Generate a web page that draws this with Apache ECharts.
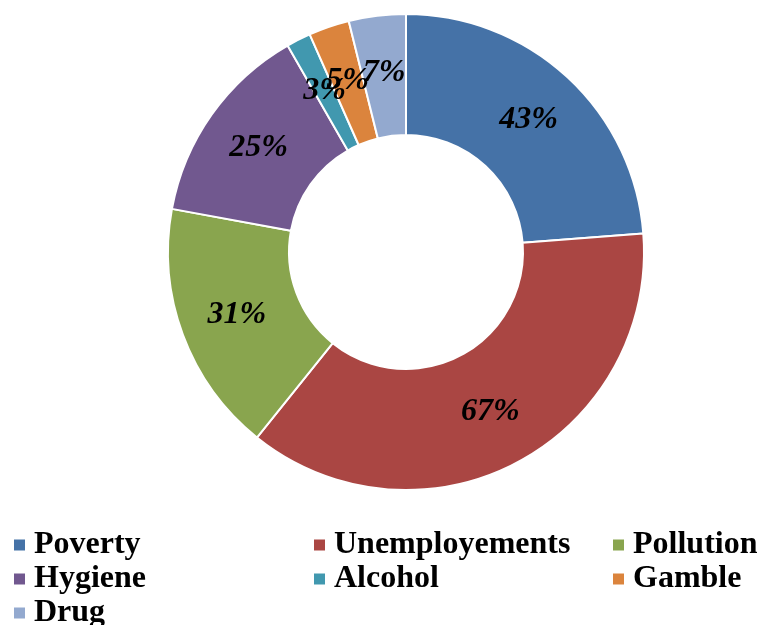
<!DOCTYPE html>
<html><head><meta charset="utf-8">
<script src="https://cdn.jsdelivr.net/npm/echarts@6/dist/echarts.min.js"></script>
<style>html,body{margin:0;padding:0;background:#fff}#c{width:757px;height:625px}</style>
</head><body><div id="c"></div>
<script>
const categories = ['Poverty','Unemployements','Pollution','Hygiene','Alcohol','Gamble','Drug'];
const values = [43, 67, 31, 25, 3, 5, 7];
const colors = ['#4572A7','#AA4643','#89A54E','#71588F','#4198AF','#DB843D','#93A9CF'];
const legendCols = [['Poverty','Hygiene','Drug'],['Unemployements','Alcohol'],['Pollution','Gamble']];
const legendLeft = [12, 312, 611];

const chart = echarts.init(document.getElementById('c'));
const legends = legendCols.map((d, i) => ({
  data: d, orient: 'vertical', left: legendLeft[i], top: 528, height: 200, padding: 0,
  icon: 'rect', itemWidth: 13, itemHeight: 13, itemGap: 0,
  textStyle: {fontFamily: 'Liberation Serif', fontWeight: 'bold', fontSize: 32, color: '#000', lineHeight: 34, padding: [0,0,0,3]}
}));
chart.setOption({
  animation: false,
  color: colors,
  legend: legends,
  series: [{
    type: 'pie',
    center: [406, 252],
    radius: [117, 238],
    startAngle: 90,
    clockwise: true,
    avoidLabelOverlap: false,
    labelLayout: {hideOverlap: false},
    itemStyle: {borderColor: '#fff', borderWidth: 2},
    label: {
      position: 'inside', formatter: '{c}%', color: '#000',
      fontFamily: 'Liberation Serif', fontWeight: 'bold', fontStyle: 'italic', fontSize: 32
    },
    labelLine: {show: false},
    data: categories.map((n, i) => ({name: n, value: values[i]}))
  }]
});
</script></body></html>
